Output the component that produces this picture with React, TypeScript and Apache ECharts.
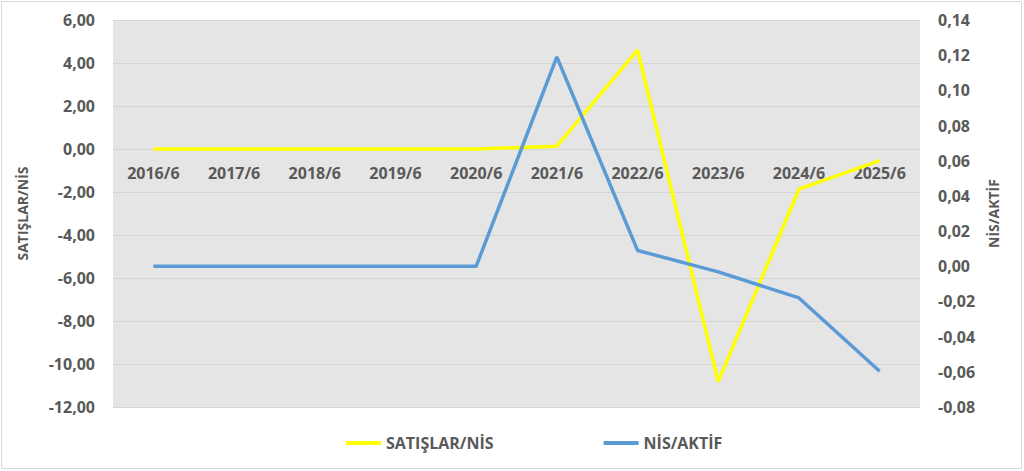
import { useEffect, useRef } from "react";
import * as echarts from "echarts";

const categories = ["2016/6", "2017/6", "2018/6", "2019/6", "2020/6", "2021/6", "2022/6", "2023/6", "2024/6", "2025/6"];
const satislarNis = [0, 0, 0, 0, 0, 0.13, 4.6, -10.82, -1.87, -0.54];
const nisAktif = [0, 0, 0, 0, 0, 0.119, 0.009, -0.0032, -0.018, -0.0597];

const textColor = "#595959";
const font = "'Open Sans', 'Liberation Sans', sans-serif";

const fmt = (v: number) => v.toFixed(2).replace(".", ",");

const App = () => {
	const chartRef = useRef<HTMLDivElement>(null);

	useEffect(() => {
		document.body.style.margin = "0";
		if (!chartRef.current) return;
		const chart = echarts.init(chartRef.current, null, { renderer: "svg" });

		// 左轴 -12..6，零点位于 (0 - -12) / 18 处；分类标签放在零线下方
		const gridTop = 20;
		const gridBottom = 64;
		const plotH = 471 - gridTop - gridBottom;
		const zeroOffset = -Math.round(plotH * (12 / 18));

		chart.setOption({
			animation: false,
			backgroundColor: "#ffffff",
			textStyle: { fontFamily: font },
			graphic: [
				{
					type: "rect",
					shape: { x: 1.5, y: 1.5, width: 1020, height: 467 },
					style: { fill: "none", stroke: "#d9d9d9", lineWidth: 1 },
					silent: true,
				},
			],
			grid: {
				left: 113,
				right: 104,
				top: gridTop,
				bottom: gridBottom,
				show: true,
				backgroundColor: "#e5e5e5",
				borderWidth: 0,
			},
			legend: {
				left: 341,
				top: 430,
				itemGap: 110,
				itemWidth: 35,
				itemHeight: 4,
				icon: "rect",
				textStyle: { color: textColor, fontSize: 16, fontWeight: "bold", fontFamily: font },
				data: ["SATIŞLAR/NİS", "NİS/AKTİF"],
			},
			xAxis: {
				type: "category",
				data: categories,
				boundaryGap: true,
				position: "bottom",
				offset: zeroOffset,
				axisLine: { show: false, onZero: false },
				axisTick: { show: false },
				axisLabel: { color: textColor, fontSize: 16, fontWeight: "bold", margin: 16, fontFamily: font },
				splitLine: { show: false },
			},
			yAxis: [
				{
					type: "value",
					min: -12,
					max: 6,
					interval: 2,
					name: "SATIŞLAR/NİS",
					nameLocation: "middle",
					nameRotate: 90,
					nameGap: 84,
					nameTextStyle: { color: textColor, fontSize: 14, fontWeight: "bold", fontFamily: font },
					axisLine: { show: false },
					axisTick: { show: false },
					axisLabel: { color: textColor, fontSize: 16, fontWeight: "bold", margin: 18, formatter: fmt, fontFamily: font },
					splitLine: { lineStyle: { color: "#d4d4d4", width: 1 } },
				},
				{
					type: "value",
					min: -0.08,
					max: 0.14,
					interval: 0.02,
					position: "right",
					name: "NİS/AKTİF",
					nameLocation: "middle",
					nameRotate: 90,
					nameGap: 56,
					nameTextStyle: { color: textColor, fontSize: 14, fontWeight: "bold", fontFamily: font },
					axisLine: { show: false },
					axisTick: { show: false },
					axisLabel: { color: textColor, fontSize: 16, fontWeight: "bold", margin: 18, formatter: fmt, fontFamily: font },
					splitLine: { show: false },
				},
			],
			series: [
				{
					name: "SATIŞLAR/NİS",
					type: "line",
					data: satislarNis,
					yAxisIndex: 0,
					symbol: "none",
					z: 5,
					lineStyle: { color: "#ffff00", width: 3.5 },
					itemStyle: { color: "#ffff00" },
				},
				{
					name: "NİS/AKTİF",
					type: "line",
					data: nisAktif,
					yAxisIndex: 1,
					symbol: "none",
					z: 5,
					lineStyle: { color: "#5b9bd5", width: 3.5 },
					itemStyle: { color: "#5b9bd5" },
				},
			],
		});

		return () => {
			chart.dispose();
		};
	}, []);

	return <div ref={chartRef} style={{ width: "1024px", height: "471px" }} />;
};

export default App;
